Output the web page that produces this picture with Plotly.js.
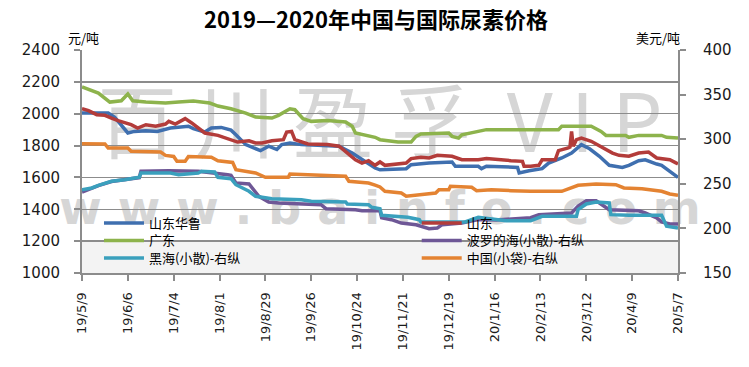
<!DOCTYPE html>
<html><head><meta charset="utf-8">
<script src="https://cdn.plot.ly/plotly-3.0.1.min.js"></script>
<style>html,body{margin:0;padding:0;background:#fff}#chart{width:749px;height:367px}</style>
</head><body><div id="chart"></div>
<script>
// ---- tick labels ----
const tickDates = ['2019-05-09','2019-06-06','2019-07-04','2019-08-01','2019-08-29','2019-09-26','2019-10-24','2019-11-21','2019-12-19','2020-01-16','2020-02-13','2020-03-12','2020-04-09','2020-05-07'];
const tickLabels = ['19/5/9','19/6/6','19/7/4','19/8/1','19/8/29','19/9/26','19/10/24','19/11/21','19/12/19','20/1/16','20/2/13','20/3/12','20/4/9','20/5/7'];

// ---- 山东华鲁 (left axis, 元/吨) ----
const hualuDates = ['2019-05-09','2019-05-25','2019-05-29','2019-06-02','2019-06-06','2019-06-10','2019-06-17','2019-06-24','2019-07-02','2019-07-13','2019-07-16','2019-07-23','2019-07-27','2019-08-02','2019-08-08','2019-08-11','2019-08-17','2019-08-26','2019-08-31','2019-09-05','2019-09-08','2019-09-13','2019-09-20','2019-09-30','2019-10-13','2019-10-21','2019-10-27','2019-11-04','2019-11-07','2019-11-23','2019-11-26','2019-12-07','2019-12-21','2019-12-23','2020-01-06','2020-01-08','2020-01-11','2020-01-30','2020-01-31','2020-02-04','2020-02-06','2020-02-14','2020-02-18','2020-02-26','2020-03-03','2020-03-09','2020-03-14','2020-03-20','2020-03-26','2020-04-03','2020-04-07','2020-04-13','2020-04-17','2020-04-24','2020-04-27','2020-05-02','2020-05-06','2020-05-07'];
const hualu = [2004,2004,1977,1931,1879,1889,1893,1889,1910,1921,1906,1885,1910,1914,1897,1868,1806,1768,1796,1775,1806,1816,1806,1802,1796,1753,1711,1659,1648,1655,1680,1690,1697,1670,1670,1655,1670,1663,1628,1638,1642,1655,1690,1722,1753,1806,1780,1733,1676,1663,1676,1705,1711,1684,1676,1638,1607,1600];

// ---- 山东 (left axis) ----
const sdDates = ['2019-05-09','2019-05-13','2019-05-18','2019-05-23','2019-05-27','2019-05-31','2019-06-08','2019-06-12','2019-06-17','2019-06-23','2019-06-29','2019-07-01','2019-07-05','2019-07-11','2019-07-15','2019-07-23','2019-07-31','2019-08-08','2019-08-12','2019-08-19','2019-08-23','2019-08-27','2019-09-02','2019-09-09','2019-09-11','2019-09-14','2019-09-16','2019-09-24','2019-10-06','2019-10-13','2019-10-17','2019-10-23','2019-10-27','2019-10-31','2019-11-04','2019-11-07','2019-11-10','2019-11-16','2019-11-23','2019-11-26','2019-12-02','2019-12-07','2019-12-12','2019-12-21','2019-12-27','2020-01-06','2020-01-11','2020-01-26','2020-02-02','2020-02-03','2020-02-07','2020-02-12','2020-02-14','2020-02-22','2020-02-24','2020-03-01','2020-03-02','2020-03-03','2020-03-04','2020-03-06','2020-03-09','2020-03-15','2020-03-22','2020-03-28','2020-04-01','2020-04-07','2020-04-13','2020-04-19','2020-04-24','2020-05-02','2020-05-06','2020-05-07'];
const shandong = [2031,2019,1994,1990,1973,1956,1931,1910,1931,1921,1935,1952,1935,1969,1942,1879,1864,1837,1822,1830,1816,1816,1830,1837,1885,1889,1837,1810,1806,1796,1764,1711,1690,1705,1676,1697,1676,1684,1690,1718,1727,1722,1739,1733,1711,1711,1718,1705,1701,1670,1670,1676,1711,1711,1768,1785,1790,1889,1796,1837,1847,1827,1785,1753,1739,1733,1753,1759,1722,1711,1690,1684];

// ---- 广东 (left axis) ----
const gdDates = ['2019-05-09','2019-05-19','2019-05-26','2019-06-02','2019-06-06','2019-06-09','2019-06-17','2019-06-29','2019-07-07','2019-07-16','2019-07-26','2019-07-31','2019-08-08','2019-08-17','2019-08-23','2019-09-02','2019-09-06','2019-09-13','2019-09-16','2019-09-21','2019-09-26','2019-10-06','2019-10-17','2019-10-21','2019-10-23','2019-10-31','2019-11-04','2019-11-07','2019-11-18','2019-11-26','2019-11-29','2019-12-02','2019-12-19','2019-12-21','2019-12-25','2019-12-27','2020-01-06','2020-01-11','2020-02-24','2020-02-26','2020-03-15','2020-03-21','2020-03-24','2020-04-05','2020-04-07','2020-04-13','2020-04-27','2020-04-30','2020-05-07'];
const guangdong = [2168,2130,2073,2081,2124,2081,2073,2067,2073,2080,2067,2048,2031,2004,1979,1973,1990,2031,2025,1969,1952,1958,1948,1921,1879,1864,1852,1837,1822,1822,1858,1873,1879,1858,1847,1868,1889,1900,1900,1921,1921,1889,1864,1864,1852,1864,1864,1852,1847];

// ---- 波罗的海(小散) (right axis, 美元/吨) ----
const btDates = ['2019-05-09','2019-05-15','2019-05-19','2019-05-27','2019-06-04','2019-06-13','2019-06-14','2019-07-01','2019-07-19','2019-07-31','2019-08-06','2019-08-08','2019-08-11','2019-08-19','2019-08-25','2019-08-31','2019-09-06','2019-10-02','2019-10-05','2019-10-23','2019-10-27','2019-11-07','2019-11-08','2019-11-14','2019-11-20','2019-11-29','2019-12-07','2019-12-12','2019-12-15','2019-12-27','2020-01-06','2020-01-17','2020-01-23','2020-02-07','2020-02-12','2020-02-20','2020-03-03','2020-03-07','2020-03-12','2020-03-18','2020-03-26','2020-04-13','2020-04-17','2020-04-24','2020-04-27','2020-05-02','2020-05-07'];
const baltic = [240.8,245,248,252.5,254.5,257,264,264.7,264,262,260.2,259.5,251,249.8,236,229.6,228.5,226.6,222.1,221,219.8,219.8,212,209.8,206,204,199.7,200.4,204.2,206,210,209.5,210,212,215.4,216.1,217.3,225,231,231,221,219.8,217.3,211.7,207.2,205,205];

// ---- 黑海(小散) (right axis) ----
const bsDates = ['2019-05-09','2019-05-15','2019-05-19','2019-05-27','2019-06-04','2019-06-13','2019-06-14','2019-07-02','2019-07-07','2019-07-19','2019-07-21','2019-07-29','2019-07-31','2019-08-08','2019-08-11','2019-08-19','2019-08-23','2019-09-02','2019-09-20','2019-09-26','2019-10-17','2019-10-18','2019-10-31','2019-11-02','2019-11-07','2019-11-08','2019-11-24','2019-12-01','2019-12-02','2019-12-29','2020-01-06','2020-01-17','2020-01-23','2020-02-07','2020-02-14','2020-03-06','2020-03-07','2020-03-12','2020-03-18','2020-03-26','2020-03-27','2020-04-07','2020-04-27','2020-04-30','2020-05-07'];
const blackSea = [243.4,245.3,248.3,252.8,254.6,257.3,262.1,262.1,260.2,262.1,264,263.2,257.3,255.7,249,241.6,236,233.3,232.2,230.4,229.6,227.4,226.6,223.7,222.1,214.7,212.4,209.8,207.2,207.2,212.4,209.8,208.6,208.6,213.6,213.6,221,227.4,229.6,228.5,215.4,214.7,214.7,202.4,200.4];

// ---- 中国(小袋) (right axis) ----
const cnDates = ['2019-05-09','2019-05-23','2019-05-25','2019-06-06','2019-06-08','2019-06-26','2019-06-29','2019-07-04','2019-07-06','2019-07-11','2019-07-13','2019-07-27','2019-07-31','2019-08-06','2019-08-09','2019-08-11','2019-08-23','2019-08-29','2019-09-12','2019-09-13','2019-09-24','2019-10-06','2019-10-17','2019-10-19','2019-10-31','2019-11-04','2019-11-07','2019-11-10','2019-11-20','2019-11-23','2019-11-29','2019-12-11','2019-12-13','2019-12-19','2019-12-20','2020-01-02','2020-01-05','2020-01-14','2020-01-26','2020-02-07','2020-02-26','2020-03-03','2020-03-07','2020-03-18','2020-03-30','2020-04-04','2020-04-15','2020-04-27','2020-05-02','2020-05-07'];
const china = [295,294.6,290,290,286.4,285.6,281.8,280.7,275.2,275.2,280.7,279.7,275.9,275,274,265.8,262.1,257.3,257.3,261,260.2,259.5,258.4,252.8,250.9,248.5,246.5,241.6,239.7,236,237.1,239.7,243.4,243.4,247.2,246.1,242.3,243.4,242.3,241.6,241.6,245.3,248.3,249.8,249,245.3,244.5,241.6,238.6,237.1];

const seriesNames = ['山东华鲁','山东','广东','波罗的海(小散)-右纵','黑海(小散)-右纵','中国(小袋)-右纵'];

const CJK = '"Noto Sans CJK SC", "Noto Sans", sans-serif';
const NUM = '"DejaVu Sans", sans-serif';
const AX = '#8c8c8c';

function line(name, x, y, axis, color, legend) {
  return {type:'scatter', mode:'lines', name:name, x:x, y:y, yaxis:axis, legend:legend, showlegend:true,
          line:{color:color, width:3.5}, hoverinfo:'skip'};
}

const data = [
  line(seriesNames[0], hualuDates, hualu, 'y', '#3F6FAF', 'legend2'),
  line(seriesNames[1], sdDates, shandong, 'y', '#B33C3A', 'legend3'),
  line(seriesNames[2], gdDates, guangdong, 'y', '#8DB34C', 'legend4'),
  line(seriesNames[3], btDates, baltic, 'y2', '#6E5796', 'legend5'),
  line(seriesNames[4], bsDates, blackSea, 'y2', '#3AA0BD', 'legend6'),
  line(seriesNames[5], cnDates, china, 'y2', '#E48332', 'legend7')
];

function leg(x, y) {
  return {x:x, y:y, xanchor:'left', yanchor:'middle', bgcolor:'rgba(0,0,0,0)', borderwidth:0,
          itemwidth:40, font:{family:CJK, size:13, color:'#000'}};
}
const c1 = 0.0285, c2 = 0.5616, r1 = 0.224, r2 = 0.146, r3 = 0.067;

const layout = {
  width:749, height:367,
  margin:{l:82, r:71, t:50, b:94},
  paper_bgcolor:'#fff', plot_bgcolor:'rgba(0,0,0,0)',
  showlegend:true,
  title:{text:'2019—2020年中国与国际尿素价格', x:0.502, xref:'container', xanchor:'center',
         y:1-20/367, yref:'container', yanchor:'middle',
         font:{family:CJK, size:22, weight:'bold', color:'#000'}},
  xaxis:{type:'date', range:['2019-05-09','2020-05-07'], tickmode:'array', tickvals:tickDates, ticktext:tickLabels,
         tickangle:-90, ticks:'outside', ticklen:6, tickwidth:2, tickcolor:AX, ticklabelstandoff:6,
         showline:true, linecolor:AX, linewidth:2, showgrid:false, zeroline:false,
         tickfont:{family:NUM, size:13, color:'#1a1a1a'}, fixedrange:true},
  yaxis:{range:[1000,2400], tick0:1000, dtick:200, ticks:'outside', ticklen:6, tickwidth:2, tickcolor:AX,
         ticklabelstandoff:11, showline:true, linecolor:AX, linewidth:2, showgrid:true, gridcolor:AX, gridwidth:1.3,
         zeroline:false, tickfont:{family:NUM, size:15, color:'#1a1a1a'}, fixedrange:true},
  yaxis2:{overlaying:'y', side:'right', range:[150,400], tick0:150, dtick:50, ticks:'outside', ticklen:6, tickwidth:2,
          tickcolor:AX, ticklabelstandoff:14, showline:true, linecolor:AX, linewidth:2, showgrid:false, zeroline:false,
          tickfont:{family:NUM, size:15, color:'#1a1a1a'}, fixedrange:true},
  legend:{visible:false},
  legend2:leg(c1, r1), legend3:leg(c2, r1),
  legend4:leg(c1, r2), legend5:leg(c2, r2),
  legend6:leg(c1, r3), legend7:leg(c2, r3),
  annotations:[
    {text:'元/吨', xref:'paper', yref:'paper', x:0.003, y:1.058, xanchor:'center', yanchor:'middle', showarrow:false,
     font:{family:CJK, size:13, color:'#000'}},
    {text:'美元/吨', xref:'paper', yref:'paper', x:0.966, y:1.058, xanchor:'center', yanchor:'middle', showarrow:false,
     font:{family:CJK, size:13, color:'#000'}}
  ],
  shapes:[
    {type:'rect', xref:'paper', yref:'y', x0:0, x1:1, y0:1000, y1:1195, layer:'below', line:{width:0}, fillcolor:'#f3f3f3'},
    {type:'rect', xref:'paper', yref:'paper', x0:0.0, x1:1.0, y0:0.46, y1:0.82, layer:'below', line:{width:0},
     fillcolor:'rgba(0,0,0,0)', label:{text:'百 川 盈 孚  V I P', textposition:'middle center',
     font:{family:CJK, size:80, color:'#d6d6d6'}}},
    {type:'rect', xref:'paper', yref:'paper', x0:0.0, x1:1.0, y0:0.17, y1:0.44, layer:'below', line:{width:0},
     fillcolor:'rgba(0,0,0,0)', label:{text:'w w w . b a i n f o . c o m', textposition:'middle center',
     font:{family:'"DejaVu Sans", sans-serif', size:46, weight:'bold', color:'#d6d6d6'}}}
  ]
};

Plotly.newPlot('chart', data, layout, {staticPlot:true, displayModeBar:false});
</script>
</body></html>
